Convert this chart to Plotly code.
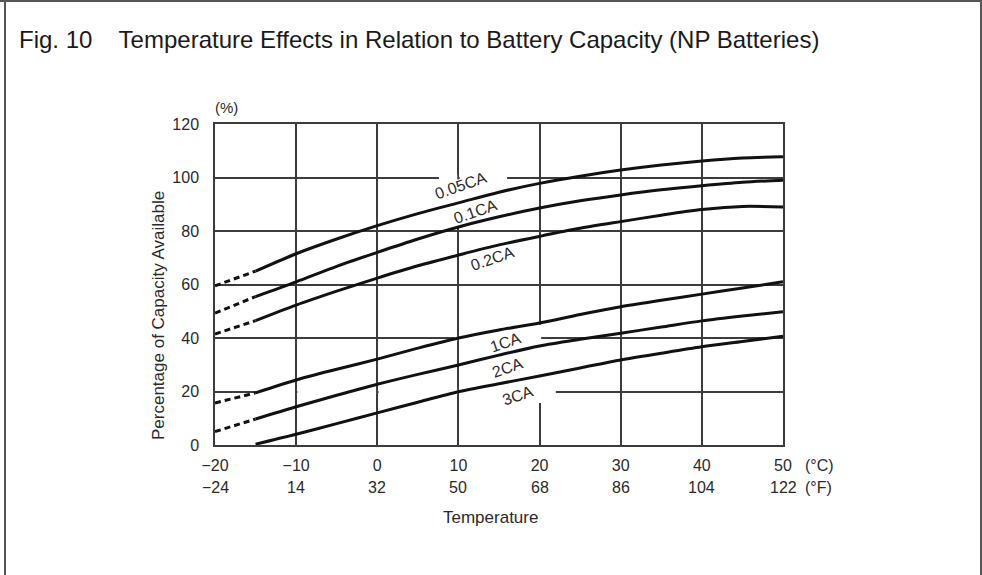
import plotly.graph_objects as go

# ---------------- data ----------------
temps_c = [-20, -15, -10, -5, 0, 5, 10, 15, 20, 25, 30, 35, 40, 45, 50]
cap_005 = [59.5, 65.0, 71.5, 77.0, 82.0, 86.5, 90.5, 94.5, 97.8, 100.5, 102.8, 104.7, 106.2, 107.3, 107.8]
cap_01 = [49.3, 55.5, 61.0, 66.8, 72.0, 77.0, 81.5, 85.3, 88.6, 91.3, 93.5, 95.4, 96.9, 98.2, 99.0]
cap_02 = [41.5, 46.5, 52.3, 57.5, 62.4, 67.0, 71.0, 74.8, 78.0, 81.0, 83.5, 85.9, 88.0, 89.2, 89.0]
cap_1 = [15.7, 19.5, 24.3, 28.3, 32.1, 36.2, 40.0, 43.0, 45.6, 48.8, 51.7, 54.1, 56.4, 58.7, 61.0]
cap_2 = [5.0, 9.7, 14.3, 18.6, 22.7, 26.4, 29.9, 33.6, 37.0, 39.5, 41.8, 44.1, 46.4, 48.2, 49.8]
cap_3 = [None, 0.3, 4.0, 8.0, 12.0, 16.0, 19.9, 22.9, 25.8, 28.8, 31.8, 34.3, 36.7, 38.7, 40.7]

series_names = ["0.05CA", "0.1CA", "0.2CA", "1CA", "2CA", "3CA"]
series_vals = [cap_005, cap_01, cap_02, cap_1, cap_2, cap_3]
# label anchor positions (temperature, capacity)
label_x = [10.3, 12.1, 14.2, 15.8, 16.1, 17.3]
label_y = [97.0, 87.4, 69.8, 38.2, 28.8, 18.6]

tick_c = [-20, -10, 0, 10, 20, 30, 40, 50]
tick_c_text = ["\u221220", "\u221210", "0", "10", "20", "30", "40", "50"]
tick_f_text = ["\u221224", "14", "32", "50", "68", "86", "104", "122"]
tick_y = [0, 20, 40, 60, 80, 100, 120]

dash_limit = -15  # below this temperature the curves are drawn dashed

# ---------------- figure ----------------
W, H = 982, 575
L, R, T, B = 215, 199, 124, 130
pw, ph = W - L - R, H - T - B

LINE = "#111111"
GRID = "#3c3c3c"
TXT = "#2a2a2a"
FONT = "Liberation Sans, Arial, sans-serif"

fig = go.Figure()
for name, vals in zip(series_names, series_vals):
    dx = [t for t, v in zip(temps_c, vals) if v is not None and t <= dash_limit]
    dy = [v for t, v in zip(temps_c, vals) if v is not None and t <= dash_limit]
    sx = [t for t, v in zip(temps_c, vals) if v is not None and t >= dash_limit]
    sy = [v for t, v in zip(temps_c, vals) if v is not None and t >= dash_limit]
    if len(dx) > 1:
        fig.add_trace(go.Scatter(x=dx, y=dy, mode="lines", showlegend=False, hoverinfo="skip",
                                 line=dict(color=LINE, width=3, dash="6px,4px")))
    fig.add_trace(go.Scatter(x=sx, y=sy, mode="lines", name=name, showlegend=False,
                             line=dict(color=LINE, width=3, shape="spline", smoothing=0.8)))

for name, lx, ly in zip(series_names, label_x, label_y):
    fig.add_annotation(x=lx, y=ly, xref="x", yref="y", text=name, showarrow=False,
                       xanchor="center", yanchor="middle",
                       textangle=-19, font=dict(family=FONT, size=16, color=TXT))

# gaps in the scanned grid (white patches between grid and curves)
def hgap(y, x0, x1, dy=1.2):
    cuts = [x0] + [v for v in tick_c if x0 < v < x1] + [x1]
    out = []
    for a, b in zip(cuts[:-1], cuts[1:]):
        a2 = a + 0.15 if a in tick_c else a
        b2 = b - 0.15 if b in tick_c else b
        out.append(dict(type="rect", xref="x", yref="y", x0=a2, x1=b2, y0=y - dy, y1=y + dy,
                        fillcolor="white", line=dict(width=0), layer="between"))
    return out

def vgap(x, y0, y1, dx=0.2):
    return [dict(type="rect", xref="x", yref="y", x0=x - dx, x1=x + dx, y0=y0, y1=y1,
                 fillcolor="white", line=dict(width=0), layer="between")]

shapes = []
shapes += hgap(100, 7.6, 16.0)
shapes += hgap(40, 9.5, 20.0)
shapes += hgap(20, -14.7, 22.0)
shapes += vgap(20, 15.7, 44.9)
shapes += vgap(10, 81.5, 99.3)

# outer frame of the figure
def px_to_paper_x(px):
    return (px - L) / pw

def px_to_paper_y(py):
    return (H - B - py) / ph

frame = dict(color="#555555", width=2)
shapes.append(dict(type="line", xref="paper", yref="paper", x0=px_to_paper_x(5), x1=px_to_paper_x(5),
                   y0=px_to_paper_y(0), y1=px_to_paper_y(H + 5), line=frame))
shapes.append(dict(type="line", xref="paper", yref="paper", x0=px_to_paper_x(981), x1=px_to_paper_x(981),
                   y0=px_to_paper_y(0), y1=px_to_paper_y(H + 5), line=frame))
shapes.append(dict(type="line", xref="paper", yref="paper", x0=px_to_paper_x(0), x1=px_to_paper_x(W),
                   y0=px_to_paper_y(1), y1=px_to_paper_y(1), line=frame))

for s in shapes:
    fig.add_shape(**s)


def note(px, py, text, size, xanchor="center", angle=0, color=TXT):
    fig.add_annotation(x=px_to_paper_x(px), y=px_to_paper_y(py), xref="paper", yref="paper",
                       text=text, showarrow=False, xanchor=xanchor, yanchor="middle",
                       textangle=angle, font=dict(family=FONT, size=size, color=color))


# Fahrenheit row
for xv, ft in zip(tick_c, tick_f_text):
    fig.add_annotation(x=xv, y=px_to_paper_y(487), xref="x", yref="paper", text=ft, showarrow=False,
                       xanchor="center", yanchor="middle",
                       font=dict(family=FONT, size=16, color=TXT))
note(803, 465, "(°C)", 16, xanchor="left")
note(803, 487, "(°F)", 16, xanchor="left")
note(213, 107, "(%)", 15, xanchor="left")
note(490, 517, "Temperature", 17)
note(158, 316, "Percentage of Capacity Available", 17, angle=-90)
note(17, 40, "Fig. 10    Temperature Effects in Relation to Battery Capacity (NP Batteries)", 24,
     xanchor="left", color="#1a1a1a")

fig.update_layout(
    width=W, height=H,
    margin=dict(l=L, r=R, t=T, b=B),
    paper_bgcolor="white", plot_bgcolor="white",
    showlegend=False,
    xaxis=dict(range=[-20, 50], tickvals=tick_c, ticktext=tick_c_text, showgrid=True,
               gridcolor=GRID, gridwidth=1.5, zeroline=False, showline=True, linecolor=GRID,
               linewidth=1.5, mirror=True, ticks="", ticklabelstandoff=5,
               tickfont=dict(family=FONT, size=16, color=TXT), fixedrange=True),
    yaxis=dict(range=[0, 120], tickvals=tick_y, showgrid=True, gridcolor=GRID, gridwidth=1.5,
               zeroline=False, showline=True, linecolor=GRID, linewidth=1.5, mirror=True,
               ticks="", ticklabelstandoff=11,
               tickfont=dict(family=FONT, size=16, color=TXT), fixedrange=True),
)

fig.write_html("out.html")
